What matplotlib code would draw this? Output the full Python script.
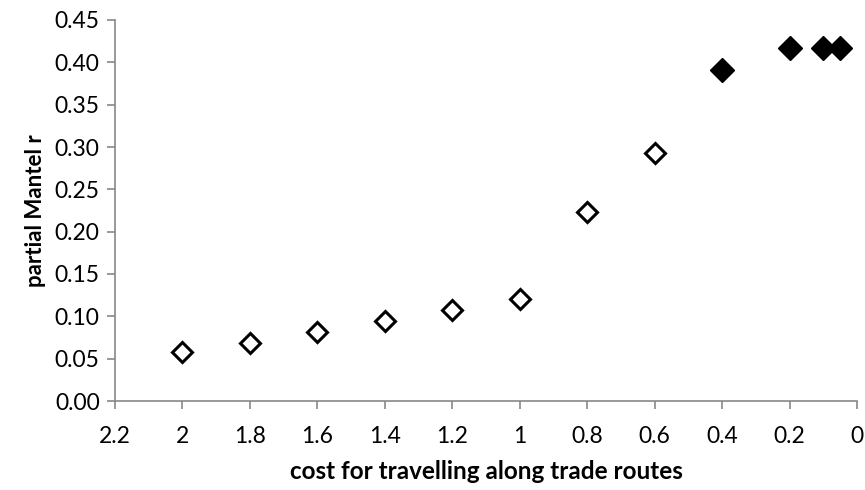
import numpy as np
import matplotlib.pyplot as plt

plt.rcParams['font.family'] = ['Lato', 'DejaVu Sans']

# open diamonds
cost_open = [2.0, 1.8, 1.6, 1.4, 1.2, 1.0, 0.8, 0.6]
r_open = [0.058, 0.069, 0.081, 0.094, 0.108, 0.121, 0.223, 0.293]
# filled diamonds
cost_fill = [0.4, 0.2, 0.1, 0.05]
r_fill = [0.391, 0.417, 0.417, 0.417]

xticks = [2.2, 2.0, 1.8, 1.6, 1.4, 1.2, 1.0, 0.8, 0.6, 0.4, 0.2, 0.0]
xticklabels = ['2.2', '2', '1.8', '1.6', '1.4', '1.2', '1', '0.8', '0.6', '0.4', '0.2', '0']
yticks = np.arange(0, 0.451, 0.05)

fig = plt.figure(figsize=(8.65, 4.9), dpi=100)
ax = fig.add_axes([115/865, 1 - 401/490, (857-115)/865, (401-20)/490])

ax.plot(cost_open, r_open, linestyle='none', marker='D', markersize=10,
        markerfacecolor='white', markeredgecolor='black', markeredgewidth=2.2, clip_on=False)
ax.plot(cost_fill, r_fill, linestyle='none', marker='D', markersize=12,
        markerfacecolor='black', markeredgecolor='black', clip_on=False)

ax.set_xlim(2.2, 0)
ax.set_ylim(0, 0.45)
ax.set_xticks(xticks)
ax.set_xticklabels(xticklabels)
ax.set_yticks(yticks)
ax.set_yticklabels(['%.2f' % v for v in yticks])

for s in ['top', 'right']:
    ax.spines[s].set_visible(False)
for s in ['left', 'bottom']:
    ax.spines[s].set_color('#888888')
    ax.spines[s].set_linewidth(1.2)
ax.tick_params(axis='both', colors='#888888', labelcolor='black', labelsize=16.5,
               length=6, width=1.2, direction='out')
ax.tick_params(axis='x', pad=12)
ax.tick_params(axis='y', pad=5)

ax.set_xlabel('cost for travelling along trade routes', fontsize=17.5, fontweight='bold', labelpad=9)
ax.set_ylabel('partial Mantel r', fontsize=16, fontweight='bold', labelpad=6)

fig.savefig('out.png', dpi=100)
